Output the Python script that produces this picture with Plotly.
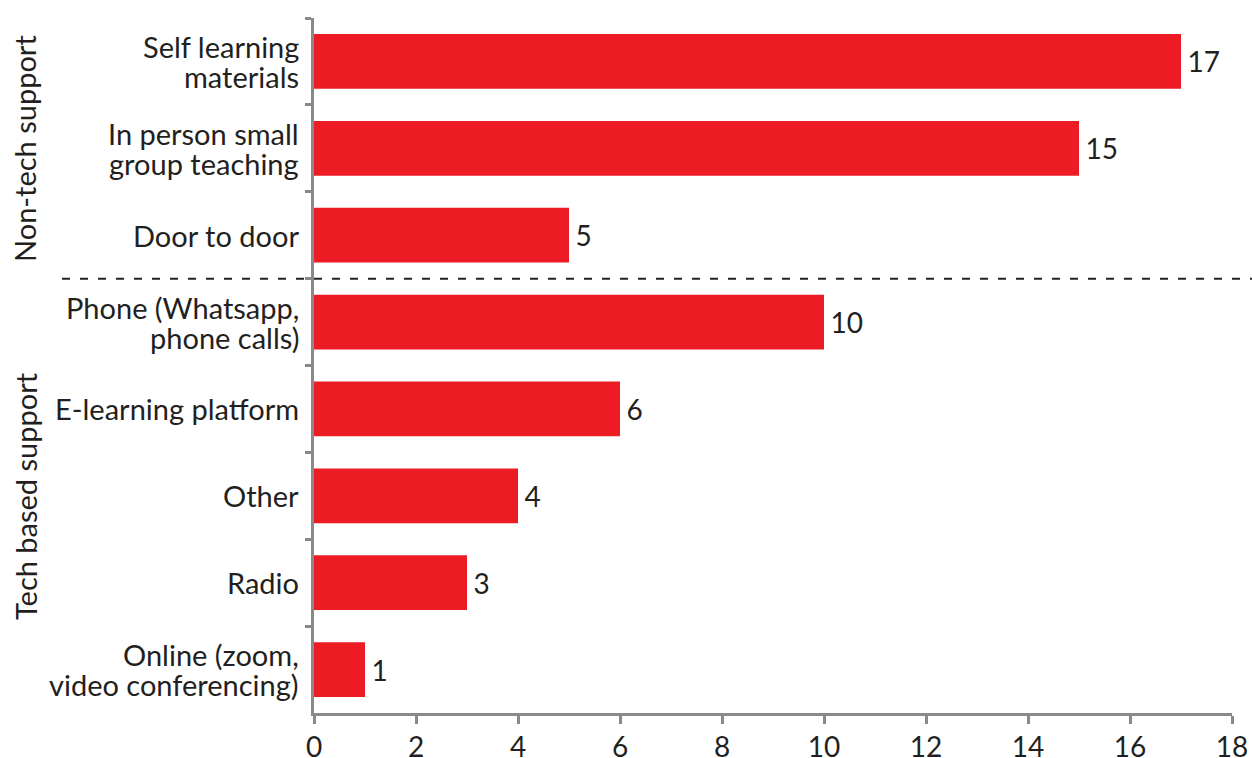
import plotly.graph_objects as go

categories = [
    "Self learning<br>materials",
    "In person small<br>group teaching",
    "Door to door",
    "Phone (Whatsapp,<br>phone calls)",
    "E-learning platform",
    "Other",
    "Radio",
    "Online (zoom,<br>video conferencing)",
]
values = [17, 15, 5, 10, 6, 4, 3, 1]
group_labels = ["Non-tech support", "Tech based support"]
x_ticks = [0, 2, 4, 6, 8, 10, 12, 14, 16, 18]

FONT = "Lato, 'Open Sans', sans-serif"
TXT = "#231F20"
AXC = "#8A8A8A"
TS = 29   # text size
NS = 28   # number size

fig = go.Figure(go.Bar(
    x=values, y=categories, orientation="h",
    marker=dict(color="#ED1C24", line=dict(width=0)),
    text=["\u2009" + str(v) for v in values], textposition="outside",
    textfont=dict(family=FONT, size=NS, color=TXT),
    cliponaxis=False,
))

fig.update_layout(
    width=1252, height=758,
    margin=dict(l=314, r=20, t=18, b=45, autoexpand=False),
    plot_bgcolor="white", paper_bgcolor="white",
    bargap=0.37, showlegend=False,
    font=dict(family=FONT, size=TS, color=TXT),
)
fig.update_xaxes(
    range=[0, 18], tickvals=x_ticks, showgrid=False, zeroline=False,
    automargin=False,
    showline=True, linecolor=AXC, linewidth=2.5,
    ticks="outside", ticklen=8, tickwidth=2.5, tickcolor=AXC,
    tickfont=dict(family=FONT, size=NS, color=TXT),
)
fig.update_yaxes(
    categoryorder="array", categoryarray=categories, autorange="reversed",
    showgrid=False, zeroline=False, showticklabels=False, automargin=False,
    showline=True, linecolor=AXC, linewidth=2.5,
    ticks="outside", ticklen=6, tickwidth=2.5, tickcolor=AXC,
    tickson="boundaries",
)

# category labels, one annotation per line for tighter line spacing
LINE = 30
for cat in categories:
    lines = cat.split("<br>")
    n = len(lines)
    for i, ln in enumerate(lines):
        shift = ((n - 1) / 2 - i) * LINE
        fig.add_annotation(text=ln, xref="paper", yref="y",
                           x=(300 - 314) / 918, y=cat, yshift=shift,
                           xanchor="right", yanchor="middle", showarrow=False,
                           borderpad=0,
                           font=dict(family=FONT, size=TS, color=TXT))

fig.add_shape(type="line", xref="paper", yref="y",
              x0=(62 - 314) / 918, x1=(1252 - 314) / 918, y0=2.5, y1=2.5,
              line=dict(color="#222222", width=2, dash="8px,10px"))

for lbl, ypix in zip(group_labels, [149, 496]):
    fig.add_annotation(text=lbl, xref="paper", yref="paper",
                       x=(25 - 314) / 918, y=(713 - ypix) / 695,
                       textangle=-90, showarrow=False,
                       font=dict(family=FONT, size=TS, color=TXT),
                       xanchor="center", yanchor="middle")

fig.write_html("out.html")
